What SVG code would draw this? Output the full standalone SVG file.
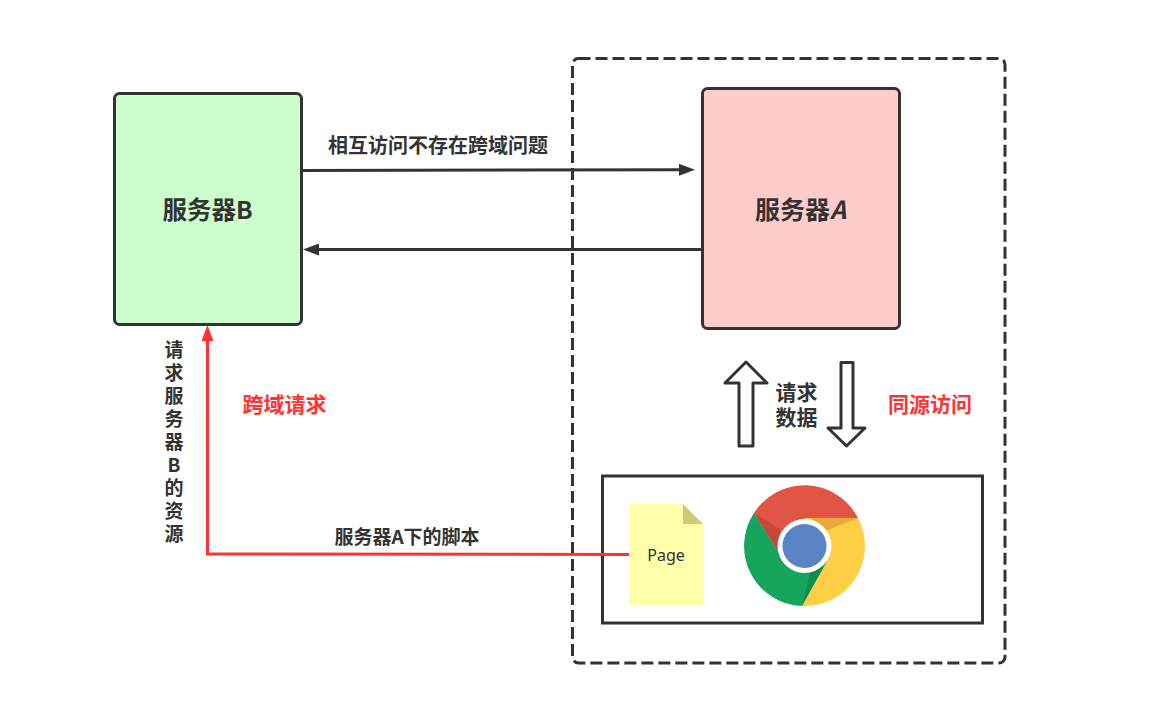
<svg xmlns="http://www.w3.org/2000/svg" width="1163" height="703" viewBox="0 0 1163 703">
<style>
text{font-family:"Noto Sans CJK SC","Liberation Sans",sans-serif;font-weight:700;fill:#333;text-anchor:middle}
.box{stroke:#333;stroke-width:3}
.conn{fill:none;stroke:#333;stroke-width:3}
.red{fill:#f33;font-size:21px}
</style>
<defs>
<marker id="ah" markerUnits="userSpaceOnUse" markerWidth="17" markerHeight="12" refX="6" refY="6" orient="auto"><path d="M0 0L16 6L0 12Z" fill="#333"/></marker>
<marker id="ar" markerUnits="userSpaceOnUse" markerWidth="17" markerHeight="12" refX="6" refY="6" orient="auto"><path d="M0 0L16 6L0 12Z" fill="#f33"/></marker>
</defs>
<rect width="1163" height="703" fill="#fff"/>
<g id="origin-boundary"><rect x="572.500" y="58.500" width="432.500" height="604.500" rx="6" fill="none" class="box" stroke-dasharray="12 5"/></g>
<g id="browser"><rect x="602.500" y="476" width="380" height="147" fill="#fff" class="box"/></g>
<g id="server-b"><rect x="114.500" y="93.500" width="187" height="231" rx="5" fill="#cfc" class="box"/><text x="207.500" y="219" font-size="24.500">服务器B</text></g>
<g id="server-a"><rect x="702.500" y="88.500" width="197" height="240" rx="5" fill="#fcc" class="box"/><text x="800.500" y="219" font-size="25">服务器<tspan font-style="italic">A</tspan></text></g>
<g id="connectors">
<path class="conn" d="M300 170.500L685 169.800" marker-end="url(#ah)"/>
<path class="conn" d="M702 249.500L313 249.500" marker-end="url(#ah)"/>
<path class="conn" d="M629 554.500L207.500 554L207.500 335" style="stroke:#f33" marker-end="url(#ar)"/>
</g>
<g id="label-mutual"><text x="438" y="152.500" font-size="20">相互访问不存在跨域问题</text></g>
<g id="label-request-b"><text font-size="19" y="356.500"><tspan x="174">请</tspan><tspan x="174" dy="23">求</tspan><tspan x="174" dy="23">服</tspan><tspan x="174" dy="23">务</tspan><tspan x="174" dy="23">器</tspan><tspan x="174" dy="23">B</tspan><tspan x="174" dy="23">的</tspan><tspan x="174" dy="23">资</tspan><tspan x="174" dy="23">源</tspan></text></g>
<g id="label-cross"><text x="284.500" y="412" class="red">跨域请求</text></g>
<g id="label-script"><text x="407" y="544" font-size="19">服务器A下的脚本</text></g>
<g id="arrow-up"><path d="M746 362L767 383L753 383L753 446L739 446L739 383L725 383Z" fill="#fff" class="box" stroke-linejoin="round"/></g>
<g id="arrow-down"><path d="M841 362.500L853 362.500L853 428L865 428L846.500 446L828 428L841 428Z" fill="#fff" class="box" stroke-linejoin="round"/></g>
<g id="label-data"><text font-size="21" y="399.500"><tspan x="796.500">请求</tspan><tspan x="796.500" dy="25.500">数据</tspan></text></g>
<g id="label-same"><text x="930" y="412" class="red">同源访问</text></g>
<g id="page">
<path d="M629 504H683L703 524V605H629Z" fill="#ffa"/>
<path d="M683 504L703 524H683Z" fill="#cc7"/>
<text x="666" y="561" font-size="16" style="font-weight:400;font-family:'Noto Sans',sans-serif">Page</text>
</g>
<g id="chrome">
<path d="M754 513A60 60 0 0 1 858 518L805 518L779 553Z" fill="#e05545"/>
<path d="M754 513A60 60 0 0 0 802 606L827 561L779 553Z" fill="#16a55c"/>
<path d="M858 518A60 60 0 0 1 802 606L827 561L805 518Z" fill="#fecf45"/>
<path d="M754 513L779 553L781 530Z" fill="#c5483a"/>
<path d="M858 518L811 518L825 531Z" fill="#e8a93a"/>
<path d="M802 606L827 561L810 573Z" fill="#0f8c50"/>
<circle cx="804.500" cy="546" r="27" fill="#fff"/>
<circle cx="804.500" cy="546" r="22" fill="#5a83c3"/>
</g>
</svg>
